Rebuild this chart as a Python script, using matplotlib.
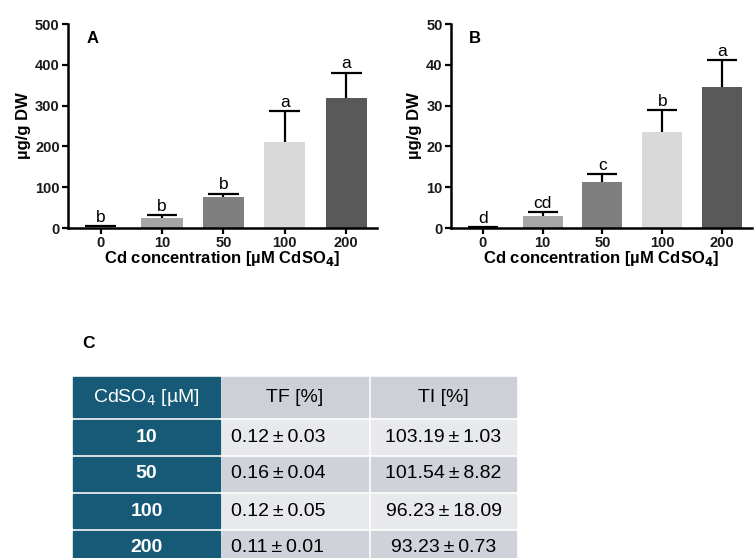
import matplotlib
matplotlib.use("Agg")
import matplotlib.pyplot as plt
from matplotlib.patches import Rectangle

plt.rcParams['font.family'] = ['Liberation Sans', 'DejaVu Sans']

# data
conc = ['0', '10', '50', '100', '200']
bar_colors = ['#ffffff', '#a6a6a6', '#7f7f7f', '#d9d9d9', '#595959']

root_cd = [2, 25, 75, 210, 318]
root_err = [2, 7, 9, 77, 63]
root_letters = ['b', 'b', 'b', 'a', 'a']

shoot_cd = [0.1, 3.0, 11.2, 23.6, 34.5]
shoot_err = [0.1, 0.8, 2.0, 5.2, 6.6]
shoot_letters = ['d', 'cd', 'c', 'b', 'a']

tab_header = ['CdSO$_4$ [µM]', 'TF [%]', 'TI [%]']
tab_conc = ['10', '50', '100', '200']
tab_tf = ['0.12\u2009±\u20090.03', '0.16\u2009±\u20090.04', '0.12\u2009±\u20090.05', '0.11\u2009±\u20090.01']
tab_ti = ['103.19\u2009±\u20091.03', '101.54\u2009±\u20098.82', '96.23\u2009±\u200918.09', '93.23\u2009±\u20090.73']

W, H = 754, 558
fig = plt.figure(figsize=(W / 100, H / 100), dpi=100)


def bar_panel(rect, vals, errs, letters, ymax, step, tag):
    ax = fig.add_axes(rect)
    x = list(range(len(conc)))
    ax.bar(x, vals, width=0.67, color=bar_colors, zorder=2)
    # one-sided error bars: stem + top cap only
    tops = [v + e for v, e in zip(vals, errs)]
    ax.vlines(x, vals, tops, color='black', lw=1.6, zorder=1)
    ax.hlines(tops, [xi - 0.25 for xi in x], [xi + 0.25 for xi in x],
              color='black', lw=1.6, zorder=3)
    for xi, t, l in zip(x, tops, letters):
        ax.annotate(l, (xi, t), xytext=(0, 1), textcoords='offset points',
                    ha='center', va='bottom', fontsize=12.5)
    ax.set_xlim(-0.53, 4.5)
    ax.set_ylim(0, ymax)
    ax.set_yticks(range(0, ymax + 1, step))
    ax.set_xticks(x)
    ax.set_xticklabels(conc)
    for s in ['top', 'right']:
        ax.spines[s].set_visible(False)
    for s in ['left', 'bottom']:
        ax.spines[s].set_linewidth(1.8)
    ax.tick_params(width=1.6, length=4, labelsize=10.5, pad=2, labelcolor='#1a1a1a')
    for t in ax.get_xticklabels() + ax.get_yticklabels():
        t.set_fontweight('bold')
    ax.set_xlabel('Cd concentration [µM CdSO$_\\mathbf{4}$]', fontsize=12,
                  fontweight='bold', labelpad=-1)
    ax.set_ylabel('µg/g DW', fontsize=12, fontweight='bold', labelpad=3)
    ax.text(0.06, 0.965, tag, transform=ax.transAxes, fontsize=12,
            fontweight='bold', va='top')
    return ax


bar_panel([68 / W, 1 - 228 / H, 309 / W, 204 / H], root_cd, root_err,
          root_letters, 500, 100, 'A')
bar_panel([451 / W, 1 - 228 / H, 301 / W, 204 / H], shoot_cd, shoot_err,
          shoot_letters, 50, 10, 'B')

# table C drawn in pixel space
tx = fig.add_axes([0, 0, 1, 1])
tx.set_xlim(0, W)
tx.set_ylim(H, 0)
tx.axis('off')
tx.text(82, 343, 'C', fontsize=12.5, fontweight='bold', va='center')

col_x = [(73, 220), (222, 368), (371, 516)]
dark = '#165a78'
head_grey = '#cdd1d7'
light = '#e7e9ec'
mid = '#cfd3d9'
fs = 14

top = 377
tx.add_patch(Rectangle((col_x[0][0], top), col_x[0][1] - col_x[0][0], 40, color=dark))
for c in (1, 2):
    tx.add_patch(Rectangle((col_x[c][0], top), col_x[c][1] - col_x[c][0], 40, color=head_grey))
tx.text(sum(col_x[0]) / 2, top + 20, tab_header[0], color='white', fontsize=fs,
        ha='center', va='center')
for c in (1, 2):
    tx.text(sum(col_x[c]) / 2, top + 20, tab_header[c], color='black', fontsize=fs,
            ha='center', va='center')

for i, (cc, tf, ti) in enumerate(zip(tab_conc, tab_tf, tab_ti)):
    y0 = 420 + i * 37
    shade = light if i % 2 == 0 else mid
    tx.add_patch(Rectangle((col_x[0][0], y0), col_x[0][1] - col_x[0][0], 34, color=dark))
    for c in (1, 2):
        tx.add_patch(Rectangle((col_x[c][0], y0), col_x[c][1] - col_x[c][0], 34, color=shade))
    yc = y0 + 17
    tx.text(sum(col_x[0]) / 2, yc, cc, color='white', fontsize=fs,
            fontweight='bold', ha='center', va='center')
    tx.text(col_x[1][0] + 9, yc, tf, color='black', fontsize=fs, ha='left', va='center')
    tx.text(sum(col_x[2]) / 2, yc, ti, color='black', fontsize=fs, ha='center', va='center')

fig.savefig('out.png', dpi=100)
